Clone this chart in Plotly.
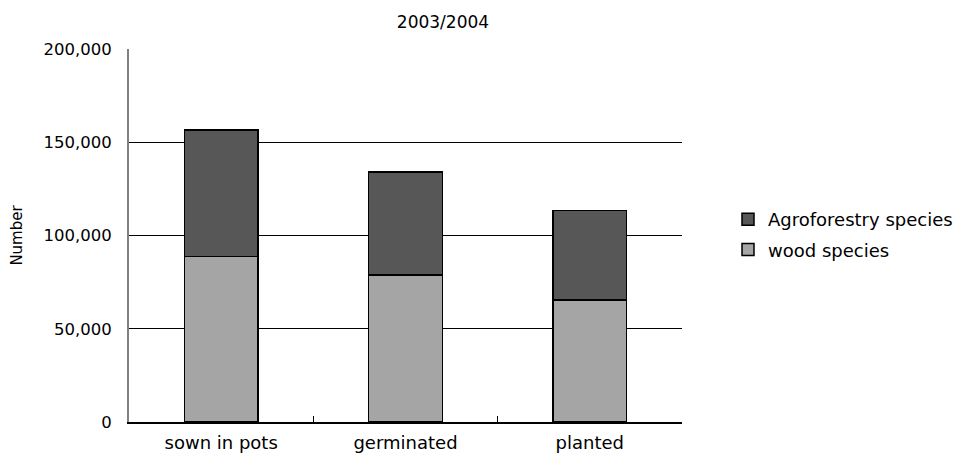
import plotly.graph_objects as go

# Seedling numbers by nursery stage, 2003/2004 season
stages = ["sown in pots", "germinated", "planted"]
wood_species = [88800, 78900, 65300]
agroforestry_species = [67800, 55200, 48100]
y_ticks = [0, 50000, 100000, 150000, 200000]
y_tick_labels = ["0", "50,000", "100,000", "150,000", "200,000"]

FONT = "DejaVu Sans, sans-serif"

fig = go.Figure()
fig.add_trace(go.Bar(
    x=stages, y=wood_species, name="wood species",
    legendgroup="wood", legendrank=2,
    marker=dict(color="#a5a5a5", line=dict(color="#000000", width=1.5)),
    width=0.4,
))
fig.add_trace(go.Bar(
    x=stages, y=agroforestry_species, name="Agroforestry species",
    legendgroup="agro", legendrank=1,
    marker=dict(color="#575757", line=dict(color="#000000", width=1.5)),
    width=0.4,
))

fig.update_layout(
    barmode="stack",
    width=963, height=465,
    margin=dict(l=129, r=281, t=49, b=43, autoexpand=False),
    paper_bgcolor="white", plot_bgcolor="white",
    font=dict(family=FONT, size=17, color="#000000"),
    title=dict(text="2003/2004", x=443 / 963, xanchor="center",
               y=1 - 22 / 465, yanchor="middle",
               font=dict(family=FONT, size=17, color="#000000")),
    legend=dict(
        xref="container", yref="container",
        x=728 / 963, xanchor="left", y=1 - 201 / 465, yanchor="top",
        traceorder="grouped", tracegroupgap=4,
        font=dict(family=FONT, size=18),
        itemwidth=30, bgcolor="rgba(0,0,0,0)",
    ),
    showlegend=True,
)

fig.update_xaxes(
    showline=True, linecolor="#000000", linewidth=1.5,
    ticks="inside", ticklen=6, tickcolor="#000000", tickson="boundaries",
    showgrid=False, tickfont=dict(size=18), ticklabelstandoff=4,
    automargin=False,
)
fig.update_yaxes(
    range=[0, 200000], tickvals=y_ticks, ticktext=y_tick_labels,
    showline=True, linecolor="#808080", linewidth=2,
    ticks="inside", ticklen=6, tickcolor="#000000",
    showgrid=True, gridcolor="#000000", gridwidth=1,
    zeroline=False, tickfont=dict(size=16.5), ticklabelstandoff=12,
    title=dict(text="Number", font=dict(size=15), standoff=17),
    automargin=False,
)

fig.write_html("out.html")
